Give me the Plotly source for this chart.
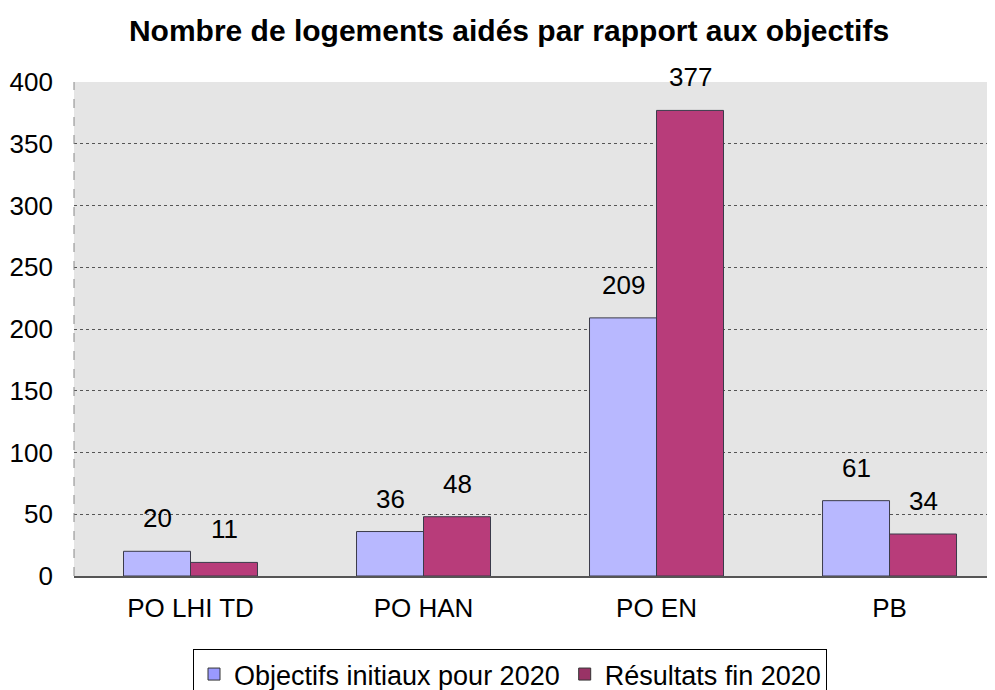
import plotly.graph_objects as go

categories = ["PO LHI TD", "PO HAN", "PO EN", "PB"]
objectifs = [20, 36, 209, 61]
resultats = [11, 48, 377, 34]
series_names = ["Objectifs initiaux pour 2020", "Résultats fin 2020"]
bar_colors = ["#b8b8ff", "#b83c7a"]
legend_colors = ["#9999ff", "#993366"]
y_ticks = [0, 50, 100, 150, 200, 250, 300, 350, 400]

FONT = "Liberation Sans, Arial, sans-serif"
BARGAP = 0.425

fig = go.Figure()
for k, (name, vals, c) in enumerate(zip(series_names, [objectifs, resultats], bar_colors)):
    fig.add_trace(go.Bar(x=categories, y=vals, name=name, offsetgroup=str(k),
                         marker=dict(color=c, line=dict(color="#3a3a4a", width=1)),
                         showlegend=False, hoverinfo="x+y+name"))
for k, (name, c) in enumerate(zip(series_names, legend_colors)):
    fig.add_trace(go.Bar(x=[categories[0]], y=[None], name=name, offsetgroup=str(k),
                         marker=dict(color=c, line=dict(color="#333333", width=1)), showlegend=True))

bw = (1 - BARGAP) / 2
annotations = []
for i in range(len(categories)):
    for j, vals in enumerate([objectifs, resultats]):
        annotations.append(dict(x=i + (j - 0.5) * bw, y=vals[i], xref="x", yref="y", text=str(vals[i]),
                                showarrow=False, yanchor="bottom", yshift=16,
                                font=dict(family=FONT, size=26, color="#000")))

W, H = 995, 690
ML, MR, MT, MB = 66, 0, 74, 122
PH = H - MT - MB
PW = W - ML - MR
fig.update_layout(
    width=W, height=H,
    margin=dict(l=ML, r=MR, t=MT, b=MB, autoexpand=False),
    paper_bgcolor="white", plot_bgcolor="#e5e5e5",
    title=dict(text="<b>Nombre de logements aidés par rapport aux objectifs</b>", x=(501 - ML) / PW,
               xanchor="center", xref="paper", yref="container", y=1 - 22 / H, yanchor="middle",
               font=dict(family=FONT, size=30, color="#000")),
    barmode="group", bargap=BARGAP, bargroupgap=0,
    font=dict(family=FONT, size=26, color="#000"),
    legend=dict(orientation="h", x=(502 - ML) / PW, xanchor="center", y=-(641 - (MT + PH)) / PH,
                yanchor="top",
                bordercolor="#000", borderwidth=1, bgcolor="white",
                font=dict(family=FONT, size=27), itemwidth=30, traceorder="normal"),
    annotations=annotations,
    shapes=[dict(type="line", xref="paper", yref="paper", x0=0, x1=0, y0=0, y1=1,
                 line=dict(color="#888", width=1, dash="dash"))],
)
fig.update_xaxes(range=[-0.5, 3.487], showline=True, linecolor="#555", linewidth=1.5, ticks="",
                 tickfont=dict(size=26), showgrid=False, ticklabelstandoff=8, automargin=False)
fig.update_yaxes(range=[0, 400], tickvals=y_ticks, showgrid=True, gridcolor="#555", griddash="dot", gridwidth=1,
                 zeroline=False, showline=False,
                 tickfont=dict(size=26), ticks="", ticklabelstandoff=20, automargin=False)
fig.write_html("out.html")
